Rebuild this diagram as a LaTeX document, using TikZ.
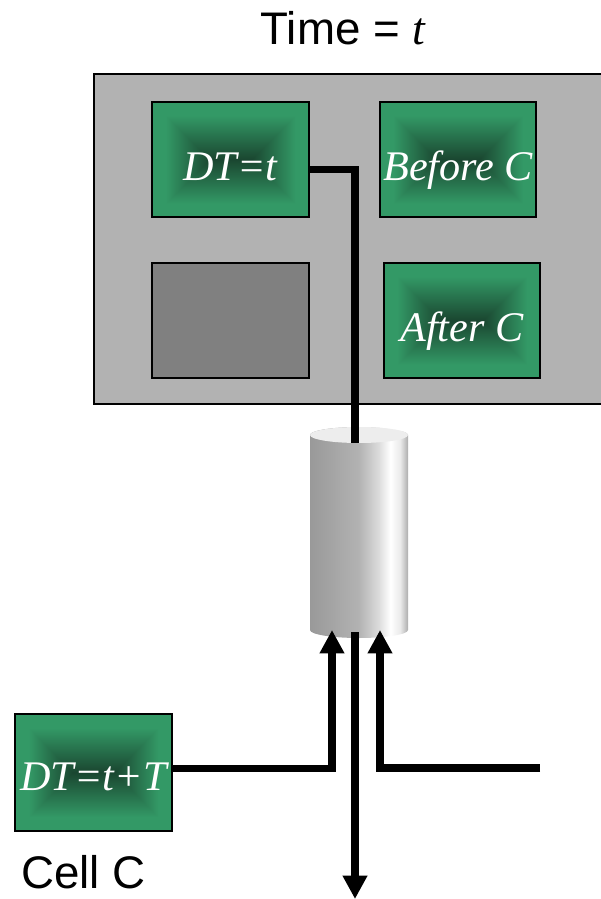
\documentclass[tikz,border=0pt]{standalone}
\usepackage{fontspec}
\setmainfont{Liberation Serif}
\newfontfamily\labelfont{Liberation Sans}
\usetikzlibrary{arrows.meta,calc}

\definecolor{panelgray}{HTML}{B2B2B2}
\definecolor{slotgray}{HTML}{808080}

% dark centre fading to green towards the edges
\pgfdeclarefunctionalshading{cellshade}{\pgfpoint{0bp}{0bp}}{\pgfpoint{100bp}{100bp}}{}{
  50 sub abs 2.3 mul 57.5 exch sub
  exch 50 sub abs 3.14 mul 78.5 exch sub
  2 copy gt {exch} if pop
  57.5 exch sub 44 div
  dup 1 gt {pop 1} if
  dup 0 lt {pop 0} if
  dup 0.098 mul 0.102 add exch
  dup 0.325 mul 0.275 add exch
  0.212 mul 0.188 add
}
\pgfdeclarehorizontalshading{tubeshade}{100bp}{color(0bp)=(black!40); color(25bp)=(black!40); color(50bp)=(black!30); color(60bp)=(black!14); color(66bp)=(white); color(71bp)=(black!8); color(75bp)=(black!32); color(100bp)=(black!32)}

\begin{document}
\begin{tikzpicture}[x=0.03cm, y=-0.03cm,
    cell/.style={draw=black, line width=1.6pt, shading=cellshade, minimum width=4.7cm, minimum height=3.45cm, inner sep=0pt, text height=1.23cm, text depth=0pt, text=white, font=\fontsize{36}{40}\selectfont\itshape},
    slot/.style={draw=black, line width=1.6pt, fill=slotgray, minimum width=4.7cm, minimum height=3.45cm},
    wire/.style={line width=6pt},
    into/.style={wire, -{Triangle[width=0.7cm, length=0.7cm]}},
    lbl/.style={inner sep=0pt, font=\labelfont\fontsize{39}{44}\selectfont}
]
    \useasboundingbox (0,0) rectangle (601,899);

    % time step panel
    \draw[fill=panelgray, line width=1.2pt] (94,74) rectangle (612,404);
    \node[lbl, anchor=base] (title) at (343,45) {Time = {\rmfamily\itshape t}};

    \node[cell] (now) at (230.5,159.5) {DT=t};
    \node[cell] (before) at (458,159.5) {Before C};
    \node[slot] (empty) at (230.5,320.5) {};
    \node[cell] (after) at (462,320.5) {After C};

    % tube
    \path[shading=tubeshade] (310,435) -- (310,630) arc[start angle=180, end angle=360, x radius=1.47cm, y radius=0.24cm] -- (408,435) arc[start angle=0, end angle=180, x radius=1.47cm, y radius=0.24cm] -- cycle;
    \fill[black!7] (359,435) ellipse [x radius=1.47cm, y radius=0.24cm];
    \coordinate (tubetop) at (355,443);
    \coordinate (tubebot) at (355,632);
    \coordinate (inL) at (332,630);
    \coordinate (inR) at (380,630);
    \coordinate (feed) at (540,768);
    \coordinate (out) at (355,899);

    % cell C
    \node[cell, minimum height=3.5cm, text height=1.05cm] (cellc) at (93.5,772.5) {DT=t+T};
    \node[lbl, anchor=base west] (celllbl) at (21,888) {Cell C};

    \draw[wire] ($(now.east)+(0,10)$) -| (tubetop);
    \draw[into] ($(cellc.east)+(0,-4)$) -| (inL);
    \draw[into] (feed) -| (inR);
    \draw[into] (tubebot) -- (out);
\end{tikzpicture}
\end{document}
